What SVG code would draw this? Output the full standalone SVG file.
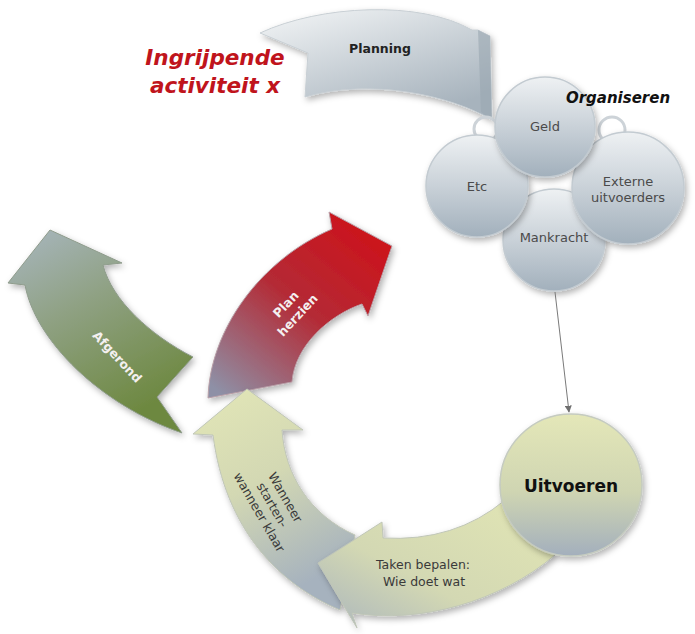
<svg xmlns="http://www.w3.org/2000/svg" width="695" height="634" viewBox="0 0 695 634">
<defs>
<filter id="sh" x="-20%" y="-20%" width="140%" height="140%">
<feDropShadow dx="2" dy="3" stdDeviation="3" flood-color="#000" flood-opacity="0.3"/>
</filter>
<linearGradient id="gPlan" x1="0" y1="0" x2="0.6" y2="1">
<stop offset="0" stop-color="#f4f6f7"/>
<stop offset="1" stop-color="#a7b3bd"/>
</linearGradient>
<linearGradient id="gCirc" x1="0" y1="0" x2="0" y2="1">
<stop offset="0" stop-color="#eef1f3"/>
<stop offset="0.5" stop-color="#c9d1d8"/>
<stop offset="1" stop-color="#a2b0bc"/>
</linearGradient>
<linearGradient id="gUit" x1="0" y1="0" x2="0" y2="1">
<stop offset="0" stop-color="#e4e7b8"/>
<stop offset="0.55" stop-color="#cfd5b2"/>
<stop offset="1" stop-color="#a3afbd"/>
</linearGradient>
<linearGradient id="gSeg2" x1="0" y1="0" x2="0.4" y2="1">
<stop offset="0" stop-color="#e3e7b7"/>
<stop offset="0.5" stop-color="#d3d8b3"/>
<stop offset="1" stop-color="#a6b2be"/>
</linearGradient>
<linearGradient id="gSeg1" x1="1" y1="0" x2="0" y2="1">
<stop offset="0" stop-color="#e2e6b4"/>
<stop offset="0.6" stop-color="#d3d8b3"/>
<stop offset="1" stop-color="#aab5bd"/>
</linearGradient>
<linearGradient id="gRed" x1="0.9" y1="0" x2="0.1" y2="1">
<stop offset="0" stop-color="#d01018"/>
<stop offset="0.5" stop-color="#b42a35"/>
<stop offset="1" stop-color="#8e90a6"/>
</linearGradient>
<linearGradient id="gGreen" x1="0" y1="0" x2="0.5" y2="1">
<stop offset="0" stop-color="#a9b7c1"/>
<stop offset="0.45" stop-color="#8fa183"/>
<stop offset="1" stop-color="#6d8840"/>
</linearGradient>
<marker id="arr" viewBox="0 0 10 10" refX="9" refY="5" markerWidth="7" markerHeight="7" orient="auto">
<path d="M0,0 L10,5 L0,10 Z" fill="#6f6f6f"/>
</marker>
<style>
.lbl{font-family:"DejaVu Sans","Liberation Sans",sans-serif;font-size:13px;fill:#4a4a4a;text-anchor:middle}
.dark{font-family:"DejaVu Sans","Liberation Sans",sans-serif;font-size:12.5px;fill:#3a3a3a;text-anchor:middle}
.wht{font-family:"DejaVu Sans","Liberation Sans",sans-serif;font-size:12.5px;font-weight:bold;fill:#f4f0f0;text-anchor:middle}
.circ{fill:url(#gCirc);stroke:#c3cbd1;stroke-width:1.5;filter:url(#sh)}
.ring{fill:none;stroke:#cdd3d8;stroke-width:3}
</style>
</defs>
<rect width="695" height="634" fill="#ffffff"/>

<g id="title">
<text x="215" y="65" font-family="DejaVu Sans, Liberation Sans, sans-serif" font-size="21.5" font-weight="bold" font-style="italic" fill="#c0141c" text-anchor="middle">Ingrijpende</text>
<text x="215" y="93" font-family="DejaVu Sans, Liberation Sans, sans-serif" font-size="21.5" font-weight="bold" font-style="italic" fill="#c0141c" text-anchor="middle">activiteit x</text>
</g>

<g id="planning">
<path d="M260,33 C320,5 420,0 472,30 L478,30 L490,36 L492,120 C450,95 370,78 305,97 L308,53 Z" fill="url(#gPlan)" stroke="#c8cfd4" stroke-width="1" filter="url(#sh)"/>
<path d="M478,30 L490,36 L492,120 L481,112 Z" fill="#9aa6b0" opacity="0.6"/>
<text x="380" y="53" font-family="DejaVu Sans, Liberation Sans, sans-serif" font-size="12.5" font-weight="bold" fill="#222" text-anchor="middle">Planning</text>
</g>

<g id="organiseren">
<circle class="ring" cx="486" cy="129" r="12"/>
<circle class="ring" cx="612" cy="130" r="13"/>
<g id="mankracht">
<circle class="circ" cx="554" cy="240" r="51"/>
<text class="lbl" x="554" y="242">Mankracht</text>
</g>
<g id="etc">
<circle class="circ" cx="477" cy="186" r="51"/>
<text class="lbl" x="477" y="191">Etc</text>
</g>
<g id="externe">
<circle class="circ" cx="628" cy="188" r="56"/>
<text class="lbl" x="628" y="186">Externe</text>
<text class="lbl" x="628" y="202">uitvoerders</text>
</g>
<g id="geld">
<circle class="circ" cx="545" cy="127" r="50"/>
<text class="lbl" x="545" y="131">Geld</text>
</g>
<text x="618" y="103" font-family="DejaVu Sans, Liberation Sans, sans-serif" font-size="15" font-weight="bold" font-style="italic" fill="#111" text-anchor="middle">Organiseren</text>
</g>

<g id="afgerond">
<path d="M182,433 L157,397 L193,357 C150,335 112,300 103,265 L122,263 L50,230 L8,283 L25,285 C35,340 100,405 182,433 Z" fill="url(#gGreen)" stroke="#8f9c8c" stroke-width="1" filter="url(#sh)"/>
<text class="wht" transform="translate(117,357) rotate(47)" x="0" y="4">Afgerond</text>
</g>

<g id="plan-herzien">
<path d="M208,398 C210,330 260,260 332,229 L329,212 L392,246 L368,316 L362,304 C330,315 295,345 292,382 Z" fill="url(#gRed)" stroke="#b9a0a8" stroke-width="1" filter="url(#sh)"/>
<g transform="translate(292,310) rotate(-47)">
<text class="wht" x="0" y="-4">Plan</text>
<text class="wht" x="0" y="12">herzien</text>
</g>
</g>

<g id="wanneer">
<path d="M340,610 C280,585 225,530 213,435 L193,434 L247,389 L303,430 L282,430 C285,475 310,515 355,535 Z" fill="url(#gSeg2)" stroke="#c0c6b8" stroke-width="1" filter="url(#sh)"/>
<g transform="translate(272,505) rotate(60)">
<text class="dark" x="0" y="-11">Wanneer</text>
<text class="dark" x="0" y="4">starten-</text>
<text class="dark" x="0" y="19">wanneer klaar</text>
</g>
</g>

<g id="taken">
<path d="M505,500 Q455,542 383,538 L382,522 L318,563 L357,628 L352,613 C420,624 500,602 555,555 Z" fill="url(#gSeg1)" stroke="#c0c6b8" stroke-width="1" filter="url(#sh)"/>
<text class="dark" x="423" y="569">Taken bepalen:</text>
<text class="dark" x="424" y="586">Wie doet wat</text>
</g>

<g id="connectors">
<line x1="555" y1="292" x2="569" y2="412" stroke="#7a7a7a" stroke-width="1" marker-end="url(#arr)"/>
</g>

<g id="uitvoeren">
<circle cx="571" cy="485" r="71" fill="url(#gUit)" stroke="#c5cbc0" stroke-width="1.5" filter="url(#sh)"/>
<text x="571" y="492" font-family="DejaVu Sans, Liberation Sans, sans-serif" font-size="17" font-weight="bold" fill="#111" text-anchor="middle">Uitvoeren</text>
</g>
</svg>
